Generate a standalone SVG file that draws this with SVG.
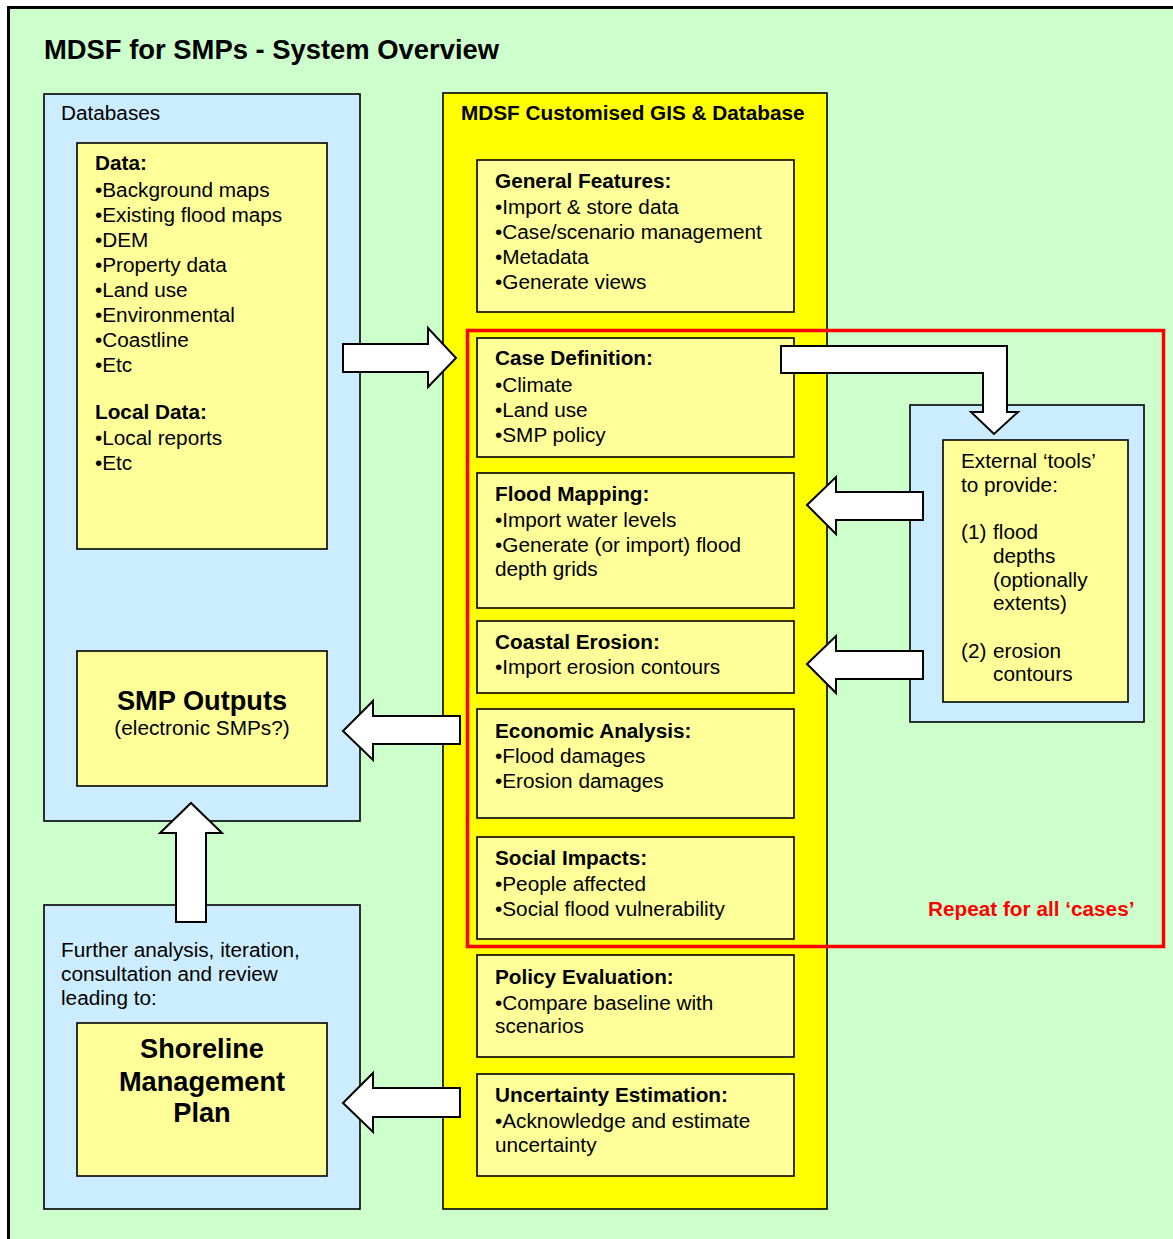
<svg xmlns="http://www.w3.org/2000/svg" width="1173" height="1239" viewBox="0 0 1173 1239">
<style>
text{font-family:"Liberation Sans",Arial,sans-serif;font-size:20.75px;fill:#000}
.b{font-weight:bold}
.big{font-weight:bold;font-size:27.2px}
.box{stroke:#000;stroke-width:1.6}
.blue{fill:#CCECFF}
.ly{fill:#FFFF99}
.arrow{fill:#fff;stroke:#000;stroke-width:2;stroke-linejoin:miter}
</style>
<rect x="0" y="0" width="1173" height="1239" fill="#fff"/>
<rect x="8.5" y="7.5" width="1175" height="1245" fill="#CCFFCC" stroke="#000" stroke-width="3"/>
<text x="44" y="59" style="font-weight:bold;font-size:27.4px">MDSF for SMPs - System Overview</text>

<g id="databases">
<rect class="box blue" x="44" y="94" width="316" height="727"/>
<text x="61" y="120">Databases</text>
</g>
<g id="data">
<rect class="box ly" x="77" y="143" width="250" height="406"/>
<text x="95" y="170" class="b">Data:</text>
<text x="95" y="197">•Background maps</text>
<text x="95" y="222">•Existing flood maps</text>
<text x="95" y="247">•DEM</text>
<text x="95" y="272">•Property data</text>
<text x="95" y="297">•Land use</text>
<text x="95" y="322">•Environmental</text>
<text x="95" y="347">•Coastline</text>
<text x="95" y="372">•Etc</text>
<text x="95" y="419" class="b">Local Data:</text>
<text x="95" y="445">•Local reports</text>
<text x="95" y="470">•Etc</text>
</g>
<g id="smp-outputs">
<rect class="box ly" x="77" y="651" width="250" height="135"/>
<text x="202" y="710" class="big" text-anchor="middle">SMP Outputs</text>
<text x="202" y="735" text-anchor="middle">(electronic SMPs?)</text>
</g>
<g id="further">
<rect class="box blue" x="44" y="905" width="316" height="304"/>
<text x="61" y="957">Further analysis, iteration,</text>
<text x="61" y="981">consultation and review</text>
<text x="61" y="1005">leading to:</text>
</g>
<g id="shoreline">
<rect class="box ly" x="77" y="1023" width="250" height="153"/>
<text x="202" y="1058" class="big" text-anchor="middle">Shoreline</text>
<text x="202" y="1091" class="big" text-anchor="middle">Management</text>
<text x="202" y="1122" class="big" text-anchor="middle">Plan</text>
</g>

<g id="gis">
<rect class="box" fill="#FFFF00" x="443" y="93" width="384" height="1116"/>
<text x="461" y="120" class="b">MDSF Customised GIS &amp; Database</text>
</g>
<g id="general-features">
<rect class="box ly" x="477" y="160" width="317" height="152"/>
<text x="495" y="188" class="b">General Features:</text>
<text x="495" y="214">•Import &amp; store data</text>
<text x="495" y="239">•Case/scenario management</text>
<text x="495" y="264">•Metadata</text>
<text x="495" y="289">•Generate views</text>
</g>
<g id="case-definition">
<rect class="box ly" x="477" y="338" width="317" height="119"/>
<text x="495" y="365" class="b">Case Definition:</text>
<text x="495" y="392">•Climate</text>
<text x="495" y="417">•Land use</text>
<text x="495" y="442">•SMP policy</text>
</g>
<g id="flood-mapping">
<rect class="box ly" x="477" y="473" width="317" height="135"/>
<text x="495" y="501" class="b">Flood Mapping:</text>
<text x="495" y="527">•Import water levels</text>
<text x="495" y="552">•Generate (or import) flood</text>
<text x="495" y="576">depth grids</text>
</g>
<g id="coastal-erosion">
<rect class="box ly" x="477" y="621" width="317" height="72"/>
<text x="495" y="649" class="b">Coastal Erosion:</text>
<text x="495" y="674">•Import erosion contours</text>
</g>
<g id="economic-analysis">
<rect class="box ly" x="477" y="709" width="317" height="109"/>
<text x="495" y="738" class="b">Economic Analysis:</text>
<text x="495" y="763">•Flood damages</text>
<text x="495" y="788">•Erosion damages</text>
</g>
<g id="social-impacts">
<rect class="box ly" x="477" y="837" width="317" height="102"/>
<text x="495" y="865" class="b">Social Impacts:</text>
<text x="495" y="891">•People affected</text>
<text x="495" y="916">•Social flood vulnerability</text>
</g>
<g id="policy-evaluation">
<rect class="box ly" x="477" y="955" width="317" height="102"/>
<text x="495" y="984" class="b">Policy Evaluation:</text>
<text x="495" y="1010">•Compare baseline with</text>
<text x="495" y="1033">scenarios</text>
</g>
<g id="uncertainty">
<rect class="box ly" x="477" y="1074" width="317" height="102"/>
<text x="495" y="1102" class="b">Uncertainty Estimation:</text>
<text x="495" y="1128">•Acknowledge and estimate</text>
<text x="495" y="1152">uncertainty</text>
</g>

<g id="repeat-cases">
<rect x="467.5" y="330.5" width="696" height="616" fill="none" stroke="#FF0000" stroke-width="3.5"/>
<text x="928" y="916" class="b" style="fill:#FF0000">Repeat for all ‘cases’</text>
</g>

<g id="external-tools">
<rect class="box blue" x="910" y="405" width="234" height="317"/>
<rect class="box ly" x="943" y="440" width="185" height="262"/>
<text x="961" y="468">External ‘tools’</text>
<text x="961" y="492">to provide:</text>
<text x="961" y="539">(1)</text>
<text x="993" y="539">flood</text>
<text x="993" y="563">depths</text>
<text x="993" y="587">(optionally</text>
<text x="993" y="610">extents)</text>
<text x="961" y="658">(2)</text>
<text x="993" y="658">erosion</text>
<text x="993" y="681">contours</text>
</g>

<g id="connectors">
<path class="arrow" d="M343,344 L428,344 L428,328 L456,358 L428,387 L428,372 L343,372 Z"/>
<path class="arrow" d="M781,346 L1007,346 L1007,412 L1018,412 L994,434 L971,412 L983,412 L983,373 L781,373 Z"/>
<path class="arrow" d="M923,492 L836,492 L836,477 L807,505 L836,534 L836,520 L923,520 Z"/>
<path class="arrow" d="M923,651 L836,651 L836,636 L807,664 L836,693 L836,679 L923,679 Z"/>
<path class="arrow" d="M460,716 L373,716 L373,701 L343,731 L373,760 L373,744 L460,744 Z"/>
<path class="arrow" d="M176,922 L176,833 L160,833 L191,803 L222,833 L206,833 L206,922 Z"/>
<path class="arrow" d="M460,1088 L373,1088 L373,1073 L343,1103 L373,1132 L373,1117 L460,1117 Z"/>
</g>
</svg>
